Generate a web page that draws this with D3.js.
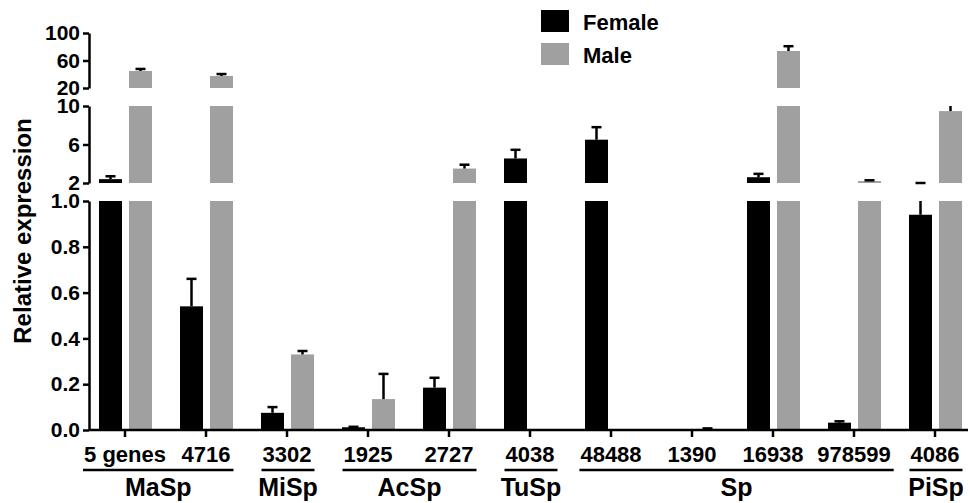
<!DOCTYPE html>
<html>
<head>
<meta charset="utf-8">
<script src="https://cdn.jsdelivr.net/npm/d3@7"></script>
<style>
  body { margin: 0; background: #fff; }
  text { font-family: "Liberation Sans", Arial, sans-serif; font-weight: bold; fill: #000; }
</style>
</head>
<body>
<div id="chart"></div>
<script>
// silk gene expression, female vs male (broken y axis)
var categories = ["5 genes", "4716", "3302", "1925", "2727", "4038", "48488", "1390", "16938", "978599", "4086"];
var groups = ["MaSp", "MaSp", "MiSp", "AcSp", "AcSp", "TuSp", "Sp", "Sp", "Sp", "Sp", "PiSp"];
var female = [2.4, 0.54, 0.075, 0.012, 0.185, 4.55, 6.5, null, 2.6, 0.032, 0.94];
var femaleErr = [0.3, 0.12, 0.025, 0.002, 0.043, 0.9, 1.3, null, 0.35, 0.006, 0.11];
var male = [44.7, 37.5, 0.33, 0.135, 3.5, null, null, 0.005, 73.8, 2.2, 9.47];
var maleErr = [3, 2.8, 0.015, 0.11, 0.4, null, null, 0.002, 7, 0.08, 0.9];
var series = ["Female", "Male"];
var colors = ["#000000", "#a0a0a0"];

var width = 970, height = 503;
var axisX = 89, baseY = 430;

var svg = d3.select("#chart").append("svg")
    .attr("width", width)
    .attr("height", height);

// three stacked pieces of the y axis
var segments = [
    { lo: 0, hi: 1, range: [baseY, 201], ticks: [0, 0.2, 0.4, 0.6, 0.8, 1.0], fmt: d3.format(".1f") },
    { lo: 2, hi: 10, range: [183, 106], ticks: [2, 6, 10], fmt: d3.format("d") },
    { lo: 20, hi: 100, range: [88, 33], ticks: [20, 60, 100], fmt: d3.format("d") }
];
segments.forEach(function (s) {
    s.y = d3.scaleLinear().domain([s.lo, s.hi]).range(s.range);
});

var x = d3.scaleBand().domain(categories).range([84.5, 84.5 + 81 * categories.length]);
var sub = d3.scaleBand().domain(series).range([-26, 27]).paddingInner(7 / 30);

var rows = categories.map(function (c, i) {
    return [
        { cat: c, s: "Female", v: female[i], e: femaleErr[i], color: colors[0] },
        { cat: c, s: "Male", v: male[i], e: maleErr[i], color: colors[1] }
    ];
});
var bars = d3.merge(rows).filter(function (d) { return d.v != null; });

var plot = svg.append("g");

segments.forEach(function (s, k) {
    var g = plot.append("g");

    bars.forEach(function (d) {
        var bx = x(d.cat) + x.bandwidth() / 2 + sub(d.s);
        var bw = sub.bandwidth();
        var cx = bx + bw / 2;
        if (d.v > s.lo) {
            var top = Math.min(d.v, s.hi);
            g.append("rect")
                .attr("x", bx)
                .attr("y", s.y(top))
                .attr("width", bw)
                .attr("height", s.y(s.lo) - s.y(top))
                .attr("fill", d.color);
        }
        var et = d.v + d.e;
        if (et > s.lo && d.v < s.hi) {
            var from = Math.max(d.v, s.lo), to = Math.min(et, s.hi);
            g.append("line")
                .attr("x1", cx).attr("x2", cx)
                .attr("y1", s.y(from)).attr("y2", s.y(to))
                .attr("stroke", "#000").attr("stroke-width", 2.5);
            if (et <= s.hi) {
                g.append("line")
                    .attr("x1", cx - 5).attr("x2", cx + 5)
                    .attr("y1", s.y(et)).attr("y2", s.y(et))
                    .attr("stroke", "#000").attr("stroke-width", 2.5);
            }
        } else if (k === 1 && et > segments[0].hi && et <= s.lo && d.v < s.lo) {
            // error top falls inside the first break: cap sits on the segment floor
            g.append("line")
                .attr("x1", cx - 5).attr("x2", cx + 5)
                .attr("y1", s.y(s.lo)).attr("y2", s.y(s.lo))
                .attr("stroke", "#000").attr("stroke-width", 2.5);
        }
    });

    var ax = svg.append("g")
        .attr("transform", "translate(" + axisX + ",0)")
        .call(d3.axisLeft(s.y).tickValues(s.ticks).tickFormat(s.fmt)
            .tickSize(6).tickSizeOuter(0).tickPadding(3));
    ax.selectAll("path, line").attr("stroke", "#000").attr("stroke-width", 2.5);
    ax.selectAll("text").attr("font-size", 21).attr("fill", "#000")
        .style("font-family", "'Liberation Sans', Arial, sans-serif").style("font-weight", "bold");
});

// x axis
var xa = svg.append("g")
    .attr("transform", "translate(0," + baseY + ")")
    .call(d3.axisBottom(x).tickSize(7).tickSizeOuter(0).tickPadding(9));
xa.select(".domain").attr("d", "M" + axisX + ",0H968");
xa.selectAll("path, line").attr("stroke", "#000").attr("stroke-width", 2.5);
xa.selectAll("text").attr("font-size", 22).attr("fill", "#000")
    .style("font-family", "'Liberation Sans', Arial, sans-serif").style("font-weight", "bold");

// group underlines + names
var labelBox = {};
xa.selectAll(".tick").each(function (c) {
    var b = d3.select(this).select("text").node().getBBox();
    var cx = x(c) + x.bandwidth() / 2;
    labelBox[c] = [cx + b.x, cx + b.x + b.width];
});
var groupNames = Array.from(new Set(groups));
groupNames.forEach(function (gname) {
    var cats = categories.filter(function (c, i) { return groups[i] === gname; });
    var x0 = d3.min(cats, function (c) { return labelBox[c][0]; }) - 1;
    var x1 = d3.max(cats, function (c) { return labelBox[c][1]; }) + 3;
    svg.append("line")
        .attr("x1", x0).attr("x2", x1)
        .attr("y1", 470).attr("y2", 470)
        .attr("stroke", "#000").attr("stroke-width", 2.5);
    svg.append("text")
        .attr("x", (x0 + x1) / 2)
        .attr("y", 496)
        .attr("text-anchor", "middle")
        .attr("font-size", 25)
        .text(gname);
});

// y title
svg.append("text")
    .attr("transform", "translate(31,231) rotate(-90)")
    .attr("text-anchor", "middle")
    .attr("font-size", 24)
    .text("Relative expression");

// legend
var legend = svg.append("g").attr("transform", "translate(541,10)");
series.forEach(function (s, i) {
    legend.append("rect")
        .attr("x", 0).attr("y", i * 33)
        .attr("width", 28).attr("height", 22)
        .attr("fill", colors[i]);
    legend.append("text")
        .attr("x", 42).attr("y", i * 33 + 20)
        .attr("font-size", 22)
        .text(s);
});
</script>
</body>
</html>
